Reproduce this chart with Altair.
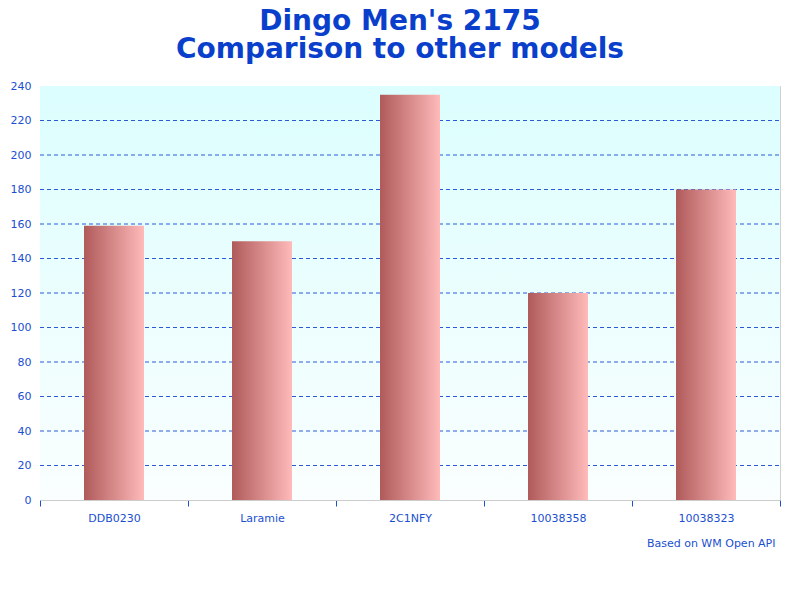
import pandas as pd
import altair as alt

models = ["DDB0230", "Laramie", "2C1NFY", "10038358", "10038323"]
scores = [159, 150, 235, 120, 180]
y_ticks = list(range(0, 241, 20))
grid_ticks = list(range(20, 221, 20))

df = pd.DataFrame({"model": models, "score": scores})
grid_df = pd.DataFrame({"level": grid_ticks})

W, H = 740, 414
blue_text = "#1a4fd0"
y_scale = alt.Scale(domain=[0, 240], nice=False)
y_axis = alt.Axis(title=None, values=y_ticks, grid=False,
                  ticks=False, domain=False, labelPadding=9)

# light cyan wash behind the plot
backdrop = alt.Chart(alt.Data(values=[{}])).mark_rect(
    color=alt.Gradient(
        gradient="linear",
        stops=[alt.GradientStop(color="#dcfefe", offset=0),
               alt.GradientStop(color="#fafefe", offset=1)],
        x1=0, x2=0, y1=0, y2=1,
    )
).encode(x=alt.value(0), x2=alt.value(W), y=alt.value(0), y2=alt.value(H))

# dashed grid, drawn over the wash but under the bars
grid = alt.Chart(grid_df).mark_rule(
    color="#2a5ad8", strokeDash=[4, 3], strokeWidth=1.2
).encode(
    y=alt.Y("level:Q", scale=y_scale, axis=y_axis),
    x=alt.value(0), x2=alt.value(W),
)

bars = alt.Chart(df).mark_bar(
    size=60,
    color=alt.Gradient(
        gradient="linear",
        stops=[alt.GradientStop(color="#b05a5a", offset=0),
               alt.GradientStop(color="#ffbaba", offset=1)],
        x1=0, x2=1, y1=0, y2=0,
    ),
).encode(
    x=alt.X("model:N", sort=models, scale=alt.Scale(paddingInner=0, paddingOuter=0),
            axis=alt.Axis(title="Based on WM Open API", labelAngle=0, tickBand="extent",
                          tickColor=blue_text, tickSize=6, domainColor="#cccccc",
                          labelPadding=6, titleAnchor="end", titleAlign="right",
                          titleX=W - 5, titleY=46, titleFontWeight="normal",
                          titleBaseline="alphabetic")),
    y=alt.Y("score:Q", scale=y_scale, axis=y_axis),
    tooltip=["model", "score"],
)

chart = alt.layer(backdrop, grid, bars).properties(
    width=W,
    height=H,
    autosize=alt.AutoSizeParams(type="none"),
    padding={"left": 32, "top": 78, "right": 12, "bottom": 80},
    title=alt.TitleParams(
        text=["Dingo Men's 2175", "Comparison to other models"],
        fontSize=28, font="DejaVu Sans", fontWeight="bold", color="#0a3fcc",
        anchor="middle", dx=-10, offset=16, lineHeight=28,
    ),
).configure_view(stroke="#d0d0d0").configure_axis(
    labelFont="DejaVu Sans", labelFontSize=11, labelColor=blue_text,
    titleFont="DejaVu Sans", titleFontSize=11, titleColor=blue_text,
)

chart.save("out.html", embed_options={"renderer": "svg", "actions": False})
